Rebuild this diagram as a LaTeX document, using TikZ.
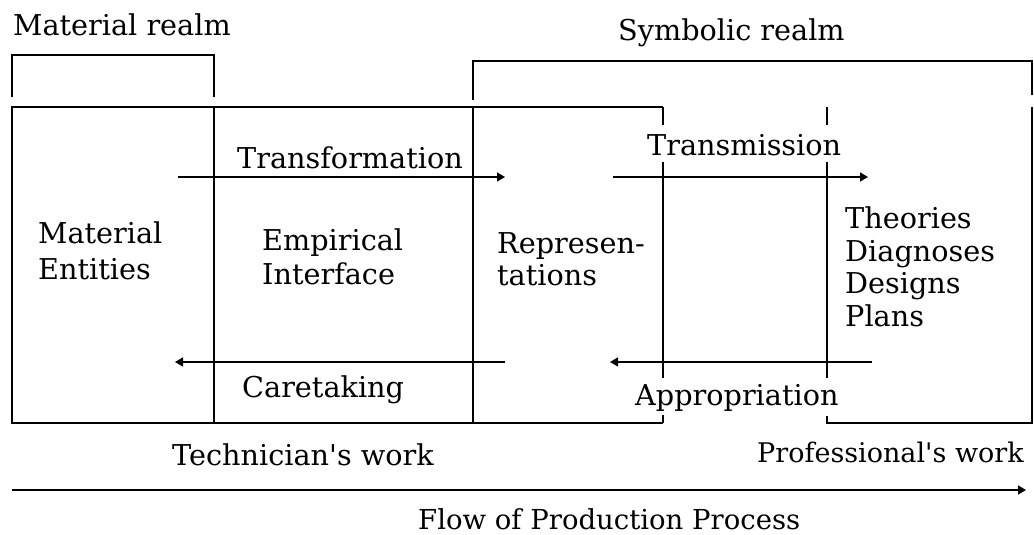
\documentclass[tikz,border=0pt]{standalone}
\usepackage{fontspec}
\setmainfont{DejaVu Serif}
\usetikzlibrary{arrows.meta}
\begin{document}
\begin{tikzpicture}[x=1pt,y=-1pt,
  ln/.style={line width=1.6pt},
  arr/.style={line width=1.6pt,-{Triangle[length=8pt,width=9pt]}},
  lbl/.style={inner sep=0pt,anchor=base west,font=\fontsize{28.7}{34}\selectfont,align=left}]
\useasboundingbox (0,0) rectangle (1034,535);

% realm brackets
\draw[ln] (12,97) -- (12,55) -- (214,55) -- (214,97);
\draw[ln] (473,100) -- (473,61) -- (1032,61) -- (1032,95);

% left block (material entities, empirical interface, representations)
\draw[ln] (663,107) -- (12,107) -- (12,423) -- (663,423);
\draw[ln] (214,107) -- (214,423);
\draw[ln] (473,107) -- (473,423);
\draw[ln] (663,107) -- (663,125);
\draw[ln] (663,162) -- (663,378);
\draw[ln] (663,415) -- (663,423);

% right block (theories ...)
\draw[ln] (827,107) -- (827,125);
\draw[ln] (827,162) -- (827,378);
\draw[ln] (827,416) -- (827,423) -- (1032,423) -- (1032,107);

% texts
\node[lbl] (mr) at (13,36) {Material realm};
\node[lbl] (sr) at (618,41) {Symbolic realm};
\node[lbl,font=\fontsize{28.7}{36}\selectfont] (me) at (38,279) {Material\\Entities};
\node[lbl] (ei) at (262,284) {Empirical\\Interface};
\node[lbl,font=\fontsize{28.7}{32}\selectfont] (rp) at (497,285) {Represen-\\tations};
\node[lbl,font=\fontsize{28.7}{32.5}\selectfont] (th) at (845,326) {Theories\\Diagnoses\\Designs\\Plans};
\node[lbl] (tf) at (237,168) {Transformation};
\node[lbl] (ct) at (242,397) {Caretaking};
\node[lbl] (tm) at (647,155) {Transmission};
\node[lbl] (ap) at (635,405) {Appropriation};
\node[lbl] (tw) at (172,465) {Technician\textquotesingle s work};
\node[lbl,font=\fontsize{27}{32}\selectfont] (pw) at (757,462) {Professional\textquotesingle s work};
\node[lbl,font=\fontsize{27.5}{32}\selectfont] (fp) at (418,529) {Flow of Production Process};

% arrows
\coordinate (tfA) at (178,177); \coordinate (tfB) at (505,177);
\coordinate (ctA) at (505,362); \coordinate (ctB) at (175,362);
\coordinate (tmA) at (613,177); \coordinate (tmB) at (868,177);
\coordinate (apA) at (872,362); \coordinate (apB) at (610,362);
\coordinate (flA) at (12,490);  \coordinate (flB) at (1026,490);
\draw[arr] (tfA) -- (tfB);
\draw[arr] (ctA) -- (ctB);
\draw[arr] (tmA) -- (tmB);
\draw[arr] (apA) -- (apB);
\draw[arr] (flA) -- (flB);
\end{tikzpicture}
\end{document}
